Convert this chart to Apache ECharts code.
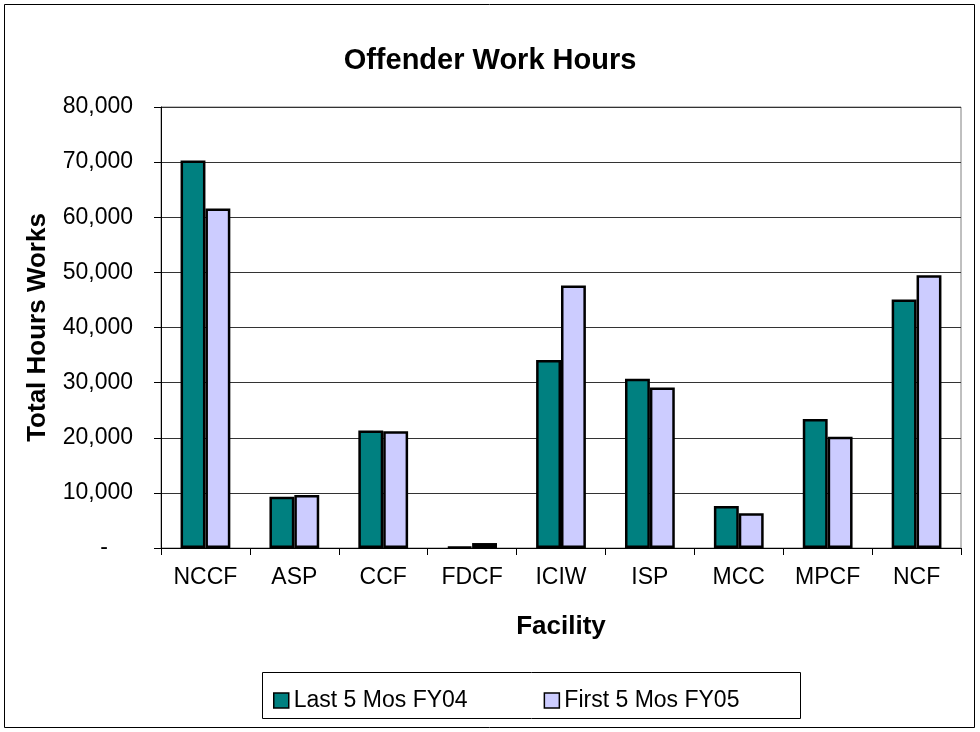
<!DOCTYPE html>
<html style="height: 100%">
<head>
    <meta charset="UTF-8">
    <title>Offender Work Hours</title>
    <script src="https://cdn.jsdelivr.net/npm/echarts@6.0.0/dist/echarts.min.js"></script>
    <style>
        #main {
            width: 980px;
            height: 732px;
        }
    </style>
</head>
<body style="height: 100%; margin: 0; padding: 0; background: #fff;">
    <div id="main"></div>

    <script>
        // 数据
        var facilities = ['NCCF', 'ASP', 'CCF', 'FDCF', 'ICIW', 'ISP', 'MCC', 'MPCF', 'NCF'];
        var last5FY04 = [70300, 9300, 21300, 200, 34100, 30700, 7600, 23400, 45100];
        var first5FY05 = [61600, 9600, 21200, 900, 47600, 29100, 6300, 20200, 49500];
        var seriesNames = ['Last 5 Mos FY04', 'First 5 Mos FY05'];

        var font = 'Liberation Sans, Arial, sans-serif';

        var option = {
            backgroundColor: '#ffffff',
            animation: false,
            title: {
                text: 'Offender Work Hours',
                left: 'center',
                top: 41,
                textStyle: { color: '#000', fontFamily: font, fontSize: 29, fontWeight: 'bold' }
            },
            grid: {
                left: 161,
                right: 19,
                top: 107,
                bottom: 184,
                show: true,
                borderColor: '#808080',
                borderWidth: 1,
                outerBoundsMode: 'none'
            },
            legend: {
                data: seriesNames,
                left: 268,
                top: 684,
                itemWidth: 15,
                itemHeight: 15,
                itemGap: 76,
                icon: 'rect',
                itemStyle: { borderColor: '#000', borderWidth: 1.5 },
                textStyle: { color: '#000', fontFamily: font, fontSize: 23 }
            },
            graphic: [
                {
                    type: 'rect',
                    shape: { x: 4.5, y: 4.5, width: 970, height: 723 },
                    style: { fill: 'none', stroke: '#000', lineWidth: 1 },
                    silent: true
                },
                {
                    type: 'rect',
                    shape: { x: 262.5, y: 672.5, width: 538, height: 46 },
                    style: { fill: 'none', stroke: '#000', lineWidth: 1 },
                    silent: true
                }
            ],
            xAxis: {
                type: 'category',
                data: facilities,
                name: 'Facility',
                nameLocation: 'middle',
                nameGap: 66,
                nameTextStyle: { color: '#000', fontFamily: font, fontSize: 26, fontWeight: 'bold' },
                axisLine: { lineStyle: { color: '#000', width: 1 } },
                axisTick: { show: true, length: 7, interval: 0, lineStyle: { color: '#000' } },
                axisLabel: { color: '#000', fontFamily: font, fontSize: 23, margin: 18, interval: 0 }
            },
            yAxis: {
                type: 'value',
                min: 0,
                max: 80000,
                interval: 10000,
                name: 'Total Hours Works',
                nameLocation: 'middle',
                nameGap: 110,
                nameTextStyle: { color: '#000', fontFamily: font, fontSize: 26, fontWeight: 'bold' },
                axisLine: { show: true, lineStyle: { color: '#000', width: 1 } },
                axisTick: { show: true, length: 7, lineStyle: { color: '#000' } },
                splitLine: { show: true, lineStyle: { color: '#333', width: 1 } },
                axisLabel: {
                    color: '#000',
                    fontFamily: font,
                    fontSize: 23,
                    margin: 28,
                    formatter: function (v) {
                        return v === 0 ? '{dash|-}' : v.toLocaleString('en-US');
                    },
                    rich: {
                        dash: { color: '#000', fontFamily: font, fontSize: 23, padding: [0, 25, 0, 0] }
                    }
                }
            },
            series: [
                {
                    name: seriesNames[0],
                    type: 'bar',
                    data: last5FY04,
                    barGap: '0%',
                    barCategoryGap: '44%',
                    itemStyle: { color: '#008080', borderColor: '#000', borderWidth: 2.5 }
                },
                {
                    name: seriesNames[1],
                    type: 'bar',
                    data: first5FY05,
                    barGap: '0%',
                    barCategoryGap: '44%',
                    itemStyle: { color: '#CCCCFF', borderColor: '#000', borderWidth: 2.5 }
                }
            ]
        };

        var chart = echarts.init(document.getElementById('main'));
        chart.setOption(option);
    </script>
</body>
</html>
